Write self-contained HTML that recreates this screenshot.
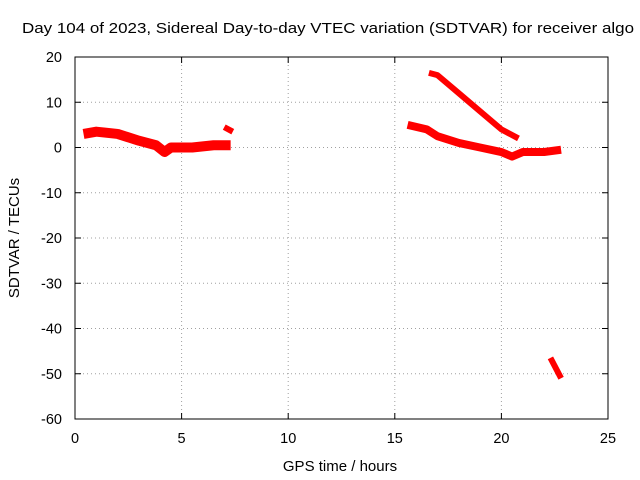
<!DOCTYPE html>
<html><head><meta charset="utf-8"><style>
body{margin:0;background:#fff}
svg{display:block;font-family:"Liberation Sans",sans-serif}
</style></head><body>
<svg id="chart" width="640" height="480" viewBox="0 0 640 480">
<rect width="640" height="480" fill="#fff"/>
<text x="22" y="33" font-size="15" textLength="612" lengthAdjust="spacingAndGlyphs" fill="#000">Day 104 of 2023, Sidereal Day-to-day VTEC variation (SDTVAR) for receiver algo</text>
<g id="grid"></g>
<g id="axes"></g>
<g id="series"></g>
<text x="340" y="471" font-size="15" text-anchor="middle">GPS time / hours</text>
<text transform="translate(19,238) rotate(-90)" font-size="15" text-anchor="middle">SDTVAR / TECUs</text>
</svg>
<script>
const xTicks=[0,5,10,15,20,25];
const yTicks=[20,10,0,-10,-20,-30,-40,-50,-60];
const seg1X=[0.4,1.0,2.0,3.0,3.8,4.2,4.5,5.5,6.5,7.3];
const seg1Y=[3,3.5,3,1.5,0.5,-1,0,0,0.5,0.5];
const seg2X=[7.0,7.4];
const seg2Y=[4.5,3.5];
const seg3X=[15.6,16.5,17.0,18.0,19.0,20.0,20.5,21.0,22.0,22.8];
const seg3Y=[5,4,2.5,1,0,-1,-2,-1,-1,-0.5];
const seg4X=[16.6,17.0,18.0,19.0,20.0,20.8];
const seg4Y=[16.5,16,12,8,4,2];
const seg5X=[22.3,22.8];
const seg5Y=[-46.5,-51];
const L=75,R=608,T=57,B=419;
const xs=v=>L+(v-0)/25*(R-L);
const ys=v=>T+(20-v)/80*(B-T);
const NS='http://www.w3.org/2000/svg';
function mk(tag,attrs,parent){const e=document.createElementNS(NS,tag);for(const k in attrs)e.setAttribute(k,attrs[k]);parent.appendChild(e);return e;}
const grid=document.getElementById('grid'),axes=document.getElementById('axes'),series=document.getElementById('series');
xTicks.forEach(t=>{
  const x=xs(t);
  if(t>0&&t<25){const g=mk('line',{x1:x,x2:x,y1:T,y2:B,stroke:'#a0a0a0','stroke-dasharray':'1,3'},grid);
  
  }
  mk('line',{x1:x,x2:x,y1:B,y2:B-6,stroke:'#000'},axes);
  mk('line',{x1:x,x2:x,y1:T,y2:T+6,stroke:'#000'},axes);
  const tx=mk('text',{x:x,y:443,'font-size':14.5,'text-anchor':'middle'},axes);tx.textContent=t;
  
  
});
yTicks.forEach(t=>{
  const y=ys(t);
  if(t>-60&&t<20){const g=mk('line',{x1:L,x2:R,y1:y,y2:y,stroke:'#a0a0a0','stroke-dasharray':'1,3'},grid);
  
  }
  mk('line',{x1:L,x2:L+6,y1:y,y2:y,stroke:'#000'},axes);
  mk('line',{x1:R,x2:R-6,y1:y,y2:y,stroke:'#000'},axes);
  const tx=mk('text',{x:62,y:y+5,'font-size':14.5,'text-anchor':'end'},axes);tx.textContent=t;
  
  
});
const fr=mk('rect',{x:L,y:T,width:R-L,height:B-T,fill:'none',stroke:'#000'},axes);


[[seg1X,seg1Y,10],[seg2X,seg2Y,6],[seg3X,seg3Y,8],[seg4X,seg4Y,6],[seg5X,seg5Y,6]].forEach(([X,Y,w],i)=>{
  const pts=X.map((v,j)=>xs(v)+','+ys(Y[j])).join(' ');
  const p=mk('polyline',{points:pts,fill:'none',stroke:'#ff0000','stroke-width':w,'stroke-linejoin':'round','stroke-linecap':'butt'},series);
  
  
});
</script>
</body></html>
